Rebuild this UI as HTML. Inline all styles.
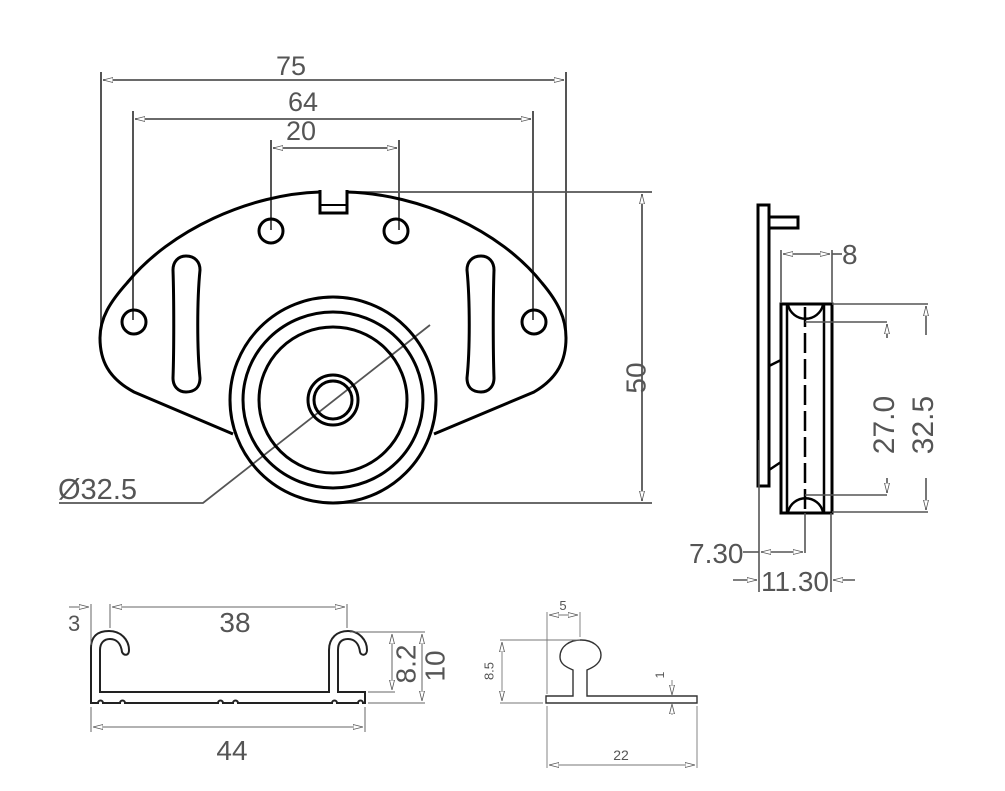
<!DOCTYPE html>
<html><head><meta charset="utf-8"><style>
html,body{margin:0;padding:0;background:#fff}
svg{display:block}
text{font-family:"Liberation Sans",sans-serif;fill:#555}
</style></head><body>
<svg width="1005" height="791" viewBox="0 0 1005 791" xmlns="http://www.w3.org/2000/svg">
<defs>
<marker id="a" viewBox="0 0 10 6" refX="10" refY="3" markerWidth="10" markerHeight="6" orient="auto-start-reverse" markerUnits="userSpaceOnUse">
<path d="M0,0.5 L10,3 L0,5.5 Z" fill="#fff" stroke="#555" stroke-width="0.8"/></marker>
</defs>
<rect width="1005" height="791" fill="#fff"/>

<g stroke="#555" stroke-width="2" fill="none">
<line x1="101" y1="72" x2="101" y2="330"/>
<line x1="566" y1="72" x2="566" y2="330"/>
<line x1="133" y1="111" x2="133" y2="320"/>
<line x1="533" y1="111" x2="533" y2="320"/>
<line x1="271" y1="140" x2="271" y2="230"/>
<line x1="399" y1="140" x2="399" y2="230"/>
</g>
<g stroke="#555" stroke-width="1.8" fill="none">
<line x1="103" y1="80" x2="564" y2="80" marker-start="url(#a)" marker-end="url(#a)"/>
<line x1="135" y1="119" x2="531" y2="119" marker-start="url(#a)" marker-end="url(#a)"/>
<line x1="273" y1="148" x2="397" y2="148" marker-start="url(#a)" marker-end="url(#a)"/>
<line x1="347" y1="192" x2="652" y2="192"/>
<line x1="338" y1="503" x2="652" y2="503"/>
<line x1="642" y1="194" x2="642" y2="501" marker-start="url(#a)" marker-end="url(#a)"/>
<polyline points="59,503 203,503 430,325"/>
</g>
<text x="291" y="75" font-size="27" text-anchor="middle">75</text>
<text x="303" y="111" font-size="27" text-anchor="middle">64</text>
<text x="301" y="140" font-size="27" text-anchor="middle">20</text>
<text x="638" y="378" font-size="28" text-anchor="middle" transform="rotate(-90 638 378)" dominant-baseline="middle">50</text>
<text x="58" y="499" font-size="29">Ø32.5</text>

<g stroke="#000" stroke-width="3" fill="none">
<path d="M320,192 C250,194 170,230 127,283 C110,302 100,318 100,338 C100,360 108,378 134,392 L233,434"/>
<path d="M347,192 C420,194 500,230 542,283 C558,302 566,318 566,338 C566,360 558,378 534,392 L434,434"/>
<path d="M320,190 L320,213 L347,213 L347,190"/>
<line x1="320" y1="205" x2="347" y2="205" stroke-width="2"/>
<circle cx="271" cy="231" r="12"/>
<circle cx="396" cy="231" r="12"/>
<circle cx="134" cy="322" r="12"/>
<circle cx="534" cy="322" r="12"/>
<path d="M186,256 C195,256 200,262 200,270 C197,300 197,350 200,378 C200,387 195,392 186,392 C178,392 173,386 173,378 C174,350 174,300 173,270 C173,262 178,256 186,256 Z"/>
<path d="M481,256 C472,256 467,262 467,270 C470,300 470,350 467,378 C467,387 472,392 481,392 C489,392 494,386 494,378 C493,350 493,300 494,270 C494,262 489,256 481,256 Z"/>
<ellipse cx="333" cy="400" rx="103" ry="103"/>
<ellipse cx="333" cy="400" rx="90" ry="88"/>
<ellipse cx="333" cy="400" rx="74" ry="73"/>
<circle cx="333" cy="400" r="25"/>
<circle cx="333" cy="400" r="19"/>
</g>

<g stroke="#000" stroke-width="3" fill="none">
<rect x="758" y="205" width="11" height="281"/>
<path d="M769,217 L798,217 L798,228 L769,228"/>
<rect x="781" y="304" width="51" height="209"/>
<line x1="787" y1="304" x2="787" y2="513" stroke-width="2.5"/>
<line x1="824" y1="304" x2="824" y2="513" stroke-width="2.5"/>
<path d="M788,305 A18,18 0 0 0 823,305" stroke-width="2.5"/>
<path d="M788,512 A18,18 0 0 1 823,512" stroke-width="2.5"/>
<line x1="769" y1="366" x2="781" y2="360" stroke-width="2.5"/>
<line x1="769" y1="470" x2="781" y2="462" stroke-width="2.5"/>
</g>
<line x1="805" y1="307" x2="805" y2="512" stroke="#000" stroke-width="2.5" stroke-dasharray="20,6"/>
<g stroke="#555" stroke-width="1.6" fill="none">
<line x1="781" y1="303" x2="781" y2="250"/>
<line x1="832" y1="303" x2="832" y2="250"/>
<line x1="783" y1="254" x2="830" y2="254" marker-start="url(#a)" marker-end="url(#a)"/>
<line x1="832" y1="254" x2="842" y2="254"/>
<line x1="832" y1="304" x2="928" y2="304"/>
<line x1="832" y1="512" x2="928" y2="512"/>
<line x1="926" y1="335" x2="926" y2="306" marker-end="url(#a)"/>
<line x1="926" y1="478" x2="926" y2="510" marker-end="url(#a)"/>
<line x1="805" y1="322" x2="887" y2="322"/>
<line x1="805" y1="495" x2="887" y2="495"/>
<line x1="887" y1="338" x2="887" y2="324" marker-end="url(#a)"/>
<line x1="887" y1="478" x2="887" y2="493" marker-end="url(#a)"/>
<line x1="759" y1="440" x2="759" y2="592"/>
<line x1="805" y1="513" x2="805" y2="553"/>
<line x1="831" y1="513" x2="831" y2="592"/>
<line x1="743" y1="552" x2="759" y2="552"/>
<line x1="761" y1="552" x2="803" y2="552" marker-start="url(#a)" marker-end="url(#a)"/>
<line x1="733" y1="580" x2="757" y2="580" marker-end="url(#a)"/>
<line x1="855" y1="580" x2="833" y2="580" marker-end="url(#a)"/>
</g>
<text x="842" y="264" font-size="28">8</text>
<text x="886" y="425" font-size="30" text-anchor="middle" dominant-baseline="middle" transform="rotate(-90 886 425)">27.0</text>
<text x="925" y="425" font-size="30" text-anchor="middle" dominant-baseline="middle" transform="rotate(-90 925 425)">32.5</text>
<text x="689" y="563" font-size="28">7.30</text>
<text x="761" y="591" font-size="28">11.30</text>

<g stroke="#222" stroke-width="2" fill="none">
<path d="M91,703 L91,648 C91,636 98,631 109,631 C121,631 129,640 129,650 C129,656 124,656 122,652 C121,644 117,639 110,639 C104,639 100,643 100,650 L100,692 L329,692 L329,650 C329,638 337,631 348,631 C359,631 367,640 367,650 C367,656 361,656 360,652 C359,644 355,639 348,639 C341,639 338,643 338,650 L338,692 L365,692 L365,703 L363,703 A2.5,2.5 0 0 0 358,703 L337,703 A2.5,2.5 0 0 0 332,703 L238,703 A2.5,2.5 0 0 0 233,703 L223,703 A2.5,2.5 0 0 0 218,703 L125,703 A2.5,2.5 0 0 0 120,703 L103,703 A2.5,2.5 0 0 0 98,703 Z"/>
</g>
<g stroke="#666" stroke-width="1" fill="none">
<line x1="91" y1="604" x2="91" y2="645"/>
<line x1="110" y1="604" x2="110" y2="628"/>
<line x1="347" y1="604" x2="347" y2="628"/>
<line x1="69" y1="607" x2="89" y2="607" marker-end="url(#a)"/>
<line x1="112" y1="607" x2="345" y2="607" marker-start="url(#a)" marker-end="url(#a)"/>
<line x1="91" y1="707" x2="91" y2="732"/>
<line x1="365" y1="707" x2="365" y2="732"/>
<line x1="93" y1="727" x2="363" y2="727" marker-start="url(#a)" marker-end="url(#a)"/>
<line x1="350" y1="632" x2="425" y2="632"/>
<line x1="368" y1="692" x2="395" y2="692"/>
<line x1="368" y1="703" x2="425" y2="703"/>
<line x1="392" y1="634" x2="392" y2="690" marker-start="url(#a)" marker-end="url(#a)"/>
<line x1="422" y1="634" x2="422" y2="701" marker-start="url(#a)" marker-end="url(#a)"/>
</g>
<text x="68" y="631" font-size="22">3</text>
<text x="235" y="632" font-size="28" text-anchor="middle">38</text>
<text x="232" y="760" font-size="28" text-anchor="middle">44</text>
<text x="408" y="664" font-size="28" text-anchor="middle" dominant-baseline="middle" transform="rotate(-90 408 664)">8.2</text>
<text x="437" y="666" font-size="28" text-anchor="middle" dominant-baseline="middle" transform="rotate(-90 437 666)">10</text>

<g stroke="#333" stroke-width="1.4" fill="none">
<path d="M546,696 L573,696 L573,670 C566,667 560,664 560,657 C560,646 570,640 581,640 C593,640 601,647 601,655 C601,663 594,667 587,670 L587,696 L697,696 L697,703 L546,703 Z"/>
</g>
<g stroke="#777" stroke-width="0.9" fill="none">
<line x1="547" y1="612" x2="547" y2="694"/>
<line x1="580" y1="612" x2="580" y2="637"/>
<line x1="549" y1="615" x2="578" y2="615" marker-start="url(#a)" marker-end="url(#a)"/>
<line x1="500" y1="640" x2="580" y2="640"/>
<line x1="500" y1="703" x2="543" y2="703"/>
<line x1="502" y1="642" x2="502" y2="701" marker-start="url(#a)" marker-end="url(#a)"/>
<line x1="672" y1="680" x2="672" y2="695" marker-end="url(#a)"/>
<line x1="672" y1="715" x2="672" y2="704" marker-end="url(#a)"/>
<line x1="547" y1="706" x2="547" y2="768"/>
<line x1="697" y1="706" x2="697" y2="768"/>
<line x1="549" y1="765" x2="695" y2="765" marker-start="url(#a)" marker-end="url(#a)"/>
</g>
<text x="563" y="610" font-size="13" text-anchor="middle">5</text>
<text x="490" y="671" font-size="13" text-anchor="middle" dominant-baseline="middle" transform="rotate(-90 490 671)">8.5</text>
<text x="661" y="675" font-size="12" text-anchor="middle" dominant-baseline="middle" transform="rotate(-90 661 675)">1</text>
<text x="621" y="760" font-size="14" text-anchor="middle">22</text>
</svg>
</body></html>
